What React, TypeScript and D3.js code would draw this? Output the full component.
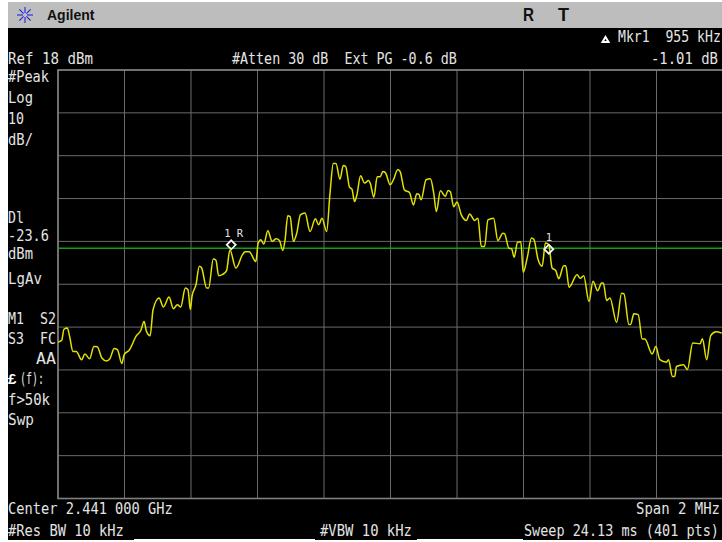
import React from "react";
import * as d3 from "d3";

const W = 722;
const H = 542;

// Trace: offset from centre (kHz) and level (dBm)
const traceFreq = [
  -1000,-989,-982,-972,-965,-955,-945,-929,-919,-905,-892,-882,-868,-854,-844,-831,-821,-808,-801,-786,
  -764,-751,-741,-734,-723,-714,-696,-683,-666,-653,-641,-631,-617,-609,-602,-597,-585,-575,-568,-553,
  -547,-533,-525,-517,-505,-493,-483,-465,-445,-437,-425,-405,-398,-390,-381,-369,-356,-344,-334,-324,
  -317,-309,-302,-292,-282,-271,-257,-242,-226,-216,-206,-192,-182,-172,-164,-152,-142,-135,-123,-116,
  -108,-101,-90,-78,-66,-61,-50,-40,-31,-23,-15,-1,9,22,29,42,57,69,79,85,
  92,107,120,130,138,150,165,173,180,190,200,213,228,238,253,263,273,283,293,310,
  323,338,343,356,364,372,382,392,399,411,424,431,444,456,466,476,486,497,506,521,
  527,537,561,571,581,597,609,623,635,640,650,660,680,695,702,717,722,732,745,757,
  765,787,798,810,830,836,848,855,860,881,893,909,931,938,951,963,979,996,
];
const traceDbm = [
  -45.5,-45.1,-42.5,-42.2,-44.2,-47.7,-47.7,-49.6,-48.3,-49.4,-46.5,-46.6,-49.2,-49.9,-49.4,-47.0,-47.3,-50.5,-48.4,-47.4,
  -44.0,-42.8,-40.7,-43.0,-44.0,-37.9,-35.2,-37.3,-35.0,-37.7,-36.8,-37.3,-32.9,-33.3,-37.9,-34.8,-32.1,-27.8,-28.2,-32.9,
  -32.9,-26.1,-26.4,-30.0,-29.7,-28.8,-24.0,-28.2,-25.1,-24.4,-24.4,-26.7,-22.4,-21.6,-22.6,-19.5,-22.0,-21.4,-21.8,-24.1,
  -21.6,-16.0,-16.2,-22.0,-20.1,-15.8,-15.4,-19.7,-16.7,-18.1,-16.6,-19.7,-10.8,-3.8,-3.8,-7.5,-4.3,-4.5,-9.4,-9.8,
  -12.7,-11.1,-6.7,-8.4,-7.8,-8.4,-11.7,-6.9,-6.9,-5.7,-6.0,-8.8,-7.6,-5.2,-5.7,-10.0,-10.6,-13.5,-10.9,-11.0,
  -12.3,-7.6,-7.4,-10.75,-15.0,-10.2,-11.5,-10.1,-10.4,-13.9,-12.8,-15.8,-17.1,-15.6,-17.1,-16.6,-23.2,-23.2,-17.0,-16.6,
  -21.8,-20.1,-20.2,-23.6,-23.7,-25.7,-22.2,-22.1,-29.2,-25.9,-21.2,-21.5,-26.3,-27.8,-22.4,-22.8,-28.2,-28.8,-30.7,-27.7,
  -27.7,-32.7,-29.8,-30.6,-30.0,-36.0,-31.3,-33.5,-31.7,-31.7,-35.8,-35.2,-40.9,-34.1,-34.2,-41.4,-41.4,-38.9,-39.1,-44.8,
  -44.8,-48.3,-46.5,-49.6,-50.2,-49.6,-53.5,-53.5,-51.2,-50.8,-51.9,-45.7,-45.9,-44.7,-49.6,-44.0,-43.1,-43.4,
];

const refLevel = 18;
const dbPerDiv = 10;
const divisions = 10;
const displayLine = -23.6;
const markerRefFreq = -479;
const markerRefDbm = -22.8;
const markerDeltaFreq = 955;
const markerDeltaDb = -1.01;

type Label = [string, number, number, number];
// text, x, baseline, width
const labels: Label[] = [
  ["Ref 18 dBm", 8, 64, 85],
  ["#Atten 30 dB  Ext PG -0.6 dB", 232, 64, 225],
  ["Mkr1  955 kHz", 618, 42, 103],
  ["-1.01 dB", 651, 64, 67],
  ["#Peak", 8, 82, 41],
  ["Log", 8, 103, 25],
  ["10", 8, 124, 16],
  ["dB/", 8, 145, 25],
  ["Dl", 8, 223, 16],
  ["-23.6", 8, 241, 41],
  ["dBm", 8, 259, 25],
  ["LgAv", 8, 284, 34],
  ["M1  S2", 8, 324, 48],
  ["S3  FC", 8, 344, 48],
  ["AA", 36, 364, 20],
  ["(f):", 20, 384, 24],
  ["f>50k", 8, 405, 42],
  ["Swp", 8, 425, 26],
  ["Center 2.441 000 GHz", 8, 514, 165],
  ["Span 2 MHz", 636, 514, 84],
  ["#Res BW 10 kHz", 8, 536, 116],
  ["#VBW 10 kHz", 320, 536, 92],
  ["Sweep 24.13 ms (401 pts)", 524, 536, 195],
];

const xScale = d3.scaleLinear().domain([-1000, 1000]).range([58, 723]);
const yScale = d3
  .scaleLinear()
  .domain([refLevel, refLevel - dbPerDiv * divisions])
  .range([70, 498.5]);

const traceLine = d3
  .line<number>()
  .x((d) => xScale(d))
  .y((_, i) => yScale(traceDbm[i]))
  .curve(d3.curveMonotoneX);

const xGrid = d3.range(divisions + 1).map((i) => -1000 + (i * 2000) / divisions);
const yGrid = d3.range(divisions + 1).map((i) => refLevel - i * dbPerDiv);

const FONT = "'DejaVu Sans Mono', monospace";
const FONT_SIZE = 16;
const CHAR_W = FONT_SIZE * 0.602;
const TEXT = "#e4e4e4";
const GRID = "#6a6a6a";

function Diamond({ cx, cy }: { cx: number; cy: number }) {
  const r = 4.5;
  return (
    <path
      d={`M${cx},${cy - r}L${cx + r},${cy}L${cx},${cy + r}L${cx - r},${cy}Z`}
      fill="none"
      stroke="#f4f4f4"
      strokeWidth={1.8}
    />
  );
}

export default function App() {
  const mRx = xScale(markerRefFreq);
  const mRy = yScale(markerRefDbm);
  const m1x = xScale(markerRefFreq + markerDeltaFreq);
  const m1y = yScale(markerRefDbm + markerDeltaDb);
  return (
    <svg
      width={W}
      height={H}
      viewBox={`0 0 ${W} ${H}`}
      style={{ position: "absolute", left: 0, top: 0, background: "#fff" }}
    >
      <rect x={8} y={2} width={714} height={26} fill="#bdbdbd" />
      <rect x={8} y={28} width={714} height={512} fill="#000" />

      {/* Agilent logo */}
      <g stroke="#2424e0" strokeWidth={1.1}>
        {d3.range(8).map((i) => {
          const a = (i * Math.PI) / 4;
          return (
            <line
              key={i}
              x1={25 + 2 * Math.cos(a)}
              y1={15 + 2 * Math.sin(a)}
              x2={25 + 8 * Math.cos(a)}
              y2={15 + 8 * Math.sin(a)}
            />
          );
        })}
      </g>
      <text x={47} y={20} fontFamily="'Liberation Sans', sans-serif" fontWeight={700} fontSize={14} fill="#111">
        Agilent
      </text>
      <text transform="translate(523,21) scale(0.8,1)" fontFamily="'Liberation Sans', sans-serif" fontWeight={700} fontSize={19} fill="#111">
        R
      </text>
      <text transform="translate(558,21) scale(0.95,1)" fontFamily="'Liberation Sans', sans-serif" fontWeight={700} fontSize={19} fill="#111">
        T
      </text>

      {/* graticule */}
      <g stroke={GRID} strokeWidth={1}>
        {xGrid.map((f) => (
          <line key={f} x1={xScale(f)} x2={xScale(f)} y1={70} y2={498.5} />
        ))}
        {yGrid.map((d) => (
          <line key={d} x1={58} x2={723} y1={yScale(d)} y2={yScale(d)} />
        ))}
      </g>
      <rect x={58} y={70} width={665} height={428.5} fill="none" stroke="#808080" strokeWidth={1.6} />

      {/* display line */}
      <line x1={58} x2={722} y1={yScale(displayLine)} y2={yScale(displayLine)} stroke="#12a012" strokeWidth={1.6} />

      {/* trace */}
      <path d={traceLine(traceFreq) ?? ""} fill="none" stroke="#e2e200" strokeWidth={1.5} strokeLinejoin="round" />

      {/* markers */}
      <Diamond cx={mRx} cy={mRy} />
      <Diamond cx={m1x} cy={m1y} />
      <text x={mRx - 7} y={mRy - 8} fontFamily={FONT} fontSize={10.5} fill={TEXT}>1 R</text>
      <text x={m1x - 3} y={m1y - 8} fontFamily={FONT} fontSize={10.5} fill={TEXT}>1</text>

      {/* delta marker glyph */}
      <path d="M602.5,42L605.5,37L608.5,42Z" fill="none" stroke="#fff" strokeWidth={2} />

      {/* pound glyph */}
      <text x={8} y={384} fontFamily="'Liberation Sans', sans-serif" fontWeight={700} fontSize={15} fill="#fff">£</text>

      {labels.map(([t, x, y, w]) => (
        <text
          key={t + x + y}
          transform={`translate(${x},${y}) scale(${w / (t.length * CHAR_W)},1)`}
          fontFamily={FONT}
          fontSize={FONT_SIZE}
          fill={TEXT}
          xmlSpace="preserve"
        >
          {t}
        </text>
      ))}

      {/* softkey underlines */}
      <rect x={134} y={539} width={181} height={3} fill="#fff" />
      <rect x={417} y={539} width={106} height={3} fill="#fff" />
    </svg>
  );
}
